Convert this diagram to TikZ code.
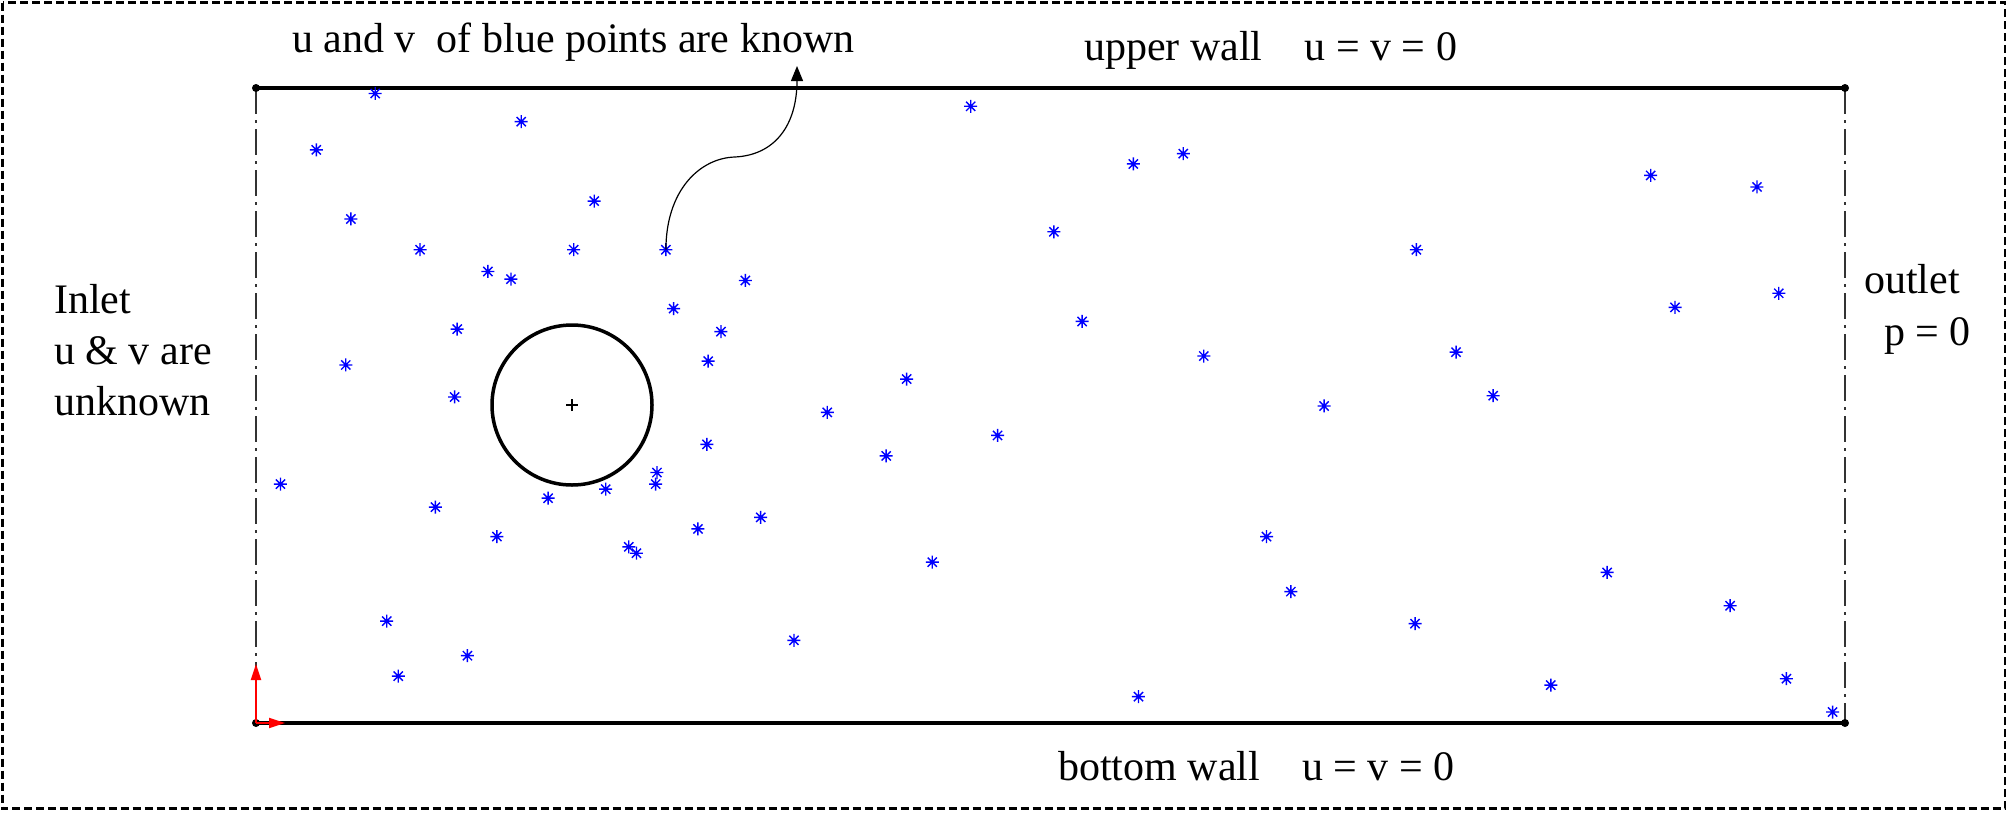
\documentclass[tikz,border=0pt]{standalone}
\usepackage{fontspec}
\setmainfont{Liberation Serif}
\usetikzlibrary{arrows.meta}
\tikzset{
  frameline/.style={line width=2.5pt, dash pattern=on 8pt off 4pt},
  wallline/.style={line width=4pt},
  sideline/.style={line width=2pt, black!80, dash pattern=on 26pt off 6pt on 3pt off 6pt},
  cornerdot/.style={fill=black},
  axisarrow/.style={red, line width=2pt, -{Triangle[length=16pt,width=10pt]}},
  cylline/.style={line width=3.5pt},
  starline/.style={blue, line width=1.4pt},
  callout/.style={line width=1.2pt, -{Triangle[length=15pt,width=12pt]}},
  lbl/.style={inner sep=0pt, anchor=base west, font=\fontsize{42}{51}\selectfont},
  astar/.pic={\draw[starline] (-6.5,0)--(6.5,0) (0,-6.5)--(0,6.5) (-4.6,-4.6)--(4.6,4.6) (-4.6,4.6)--(4.6,-4.6);}
}
\begin{document}
\begin{tikzpicture}[x=1pt,y=-1pt]
\useasboundingbox (0,0) rectangle (2008,812);
% outer dashed frame
\draw[frameline] (2.5,2.5) rectangle (2005,808.5);
% channel corners
\coordinate (tl) at (256,88);
\coordinate (tr) at (1845,88);
\coordinate (bl) at (256,723);
\coordinate (br) at (1845,723);
\draw[sideline] (tl) -- (bl);
\draw[sideline] (tr) -- (br);
\draw[wallline] (tl) -- (tr);
\draw[wallline] (bl) -- (br);
\foreach \c in {tl,tr,bl,br} \fill[cornerdot] (\c) circle (4);
% axes
\coordinate (ay) at (256,664);
\coordinate (ax) at (285,723);
\draw[axisarrow] (bl) -- (ay);
\draw[axisarrow] (bl) -- (ax);
% cylinder
\coordinate (cc) at (572,405);
\draw[cylline] (cc) circle (80);
\draw[line width=1.2pt] ([xshift=-6pt]cc) -- ([xshift=6pt]cc) ([yshift=-6pt]cc) -- ([yshift=6pt]cc);
% stars
\foreach \x/\y [count=\i] in {293/73, 407/95, 247/117, 758/83, 885/128, 924/120, 1289/137, 1372/146,
  274/171, 464/157, 328/195, 448/195, 520/195, 381/212, 399/218, 582/219, 823/181, 1106/195,
  526/241, 357/257, 563/259, 845/251, 1308/240, 1389/229, 270/285, 553/282, 940/278, 1137/275,
  355/310, 708/296, 1166/309, 646/322, 1034/317, 779/340, 552/347, 692/356, 219/378, 513/369,
  512/378, 473/382, 428/389, 340/396, 594/404, 545/413, 388/419, 491/427, 497/432, 728/439,
  989/419, 1008/462, 1255/447, 1351/473, 1105/487, 302/485, 620/500, 365/512, 311/528,
  1211/535, 1395/530, 889/544, 1431/556}
{
  \coordinate (s\i) at ({1.2806*\x},{1.2806*\y});
  \pic at (s\i) {astar};
}
% callout arrow
\coordinate (tip) at (797,66);
\draw[callout] (s13) .. controls (666,190) and (700,158) .. (735,157) .. controls (775,155) and (797,125) .. (tip);
% labels
\node[lbl] (known) at (292,52) {u and v\ \ of blue points are known};
\node[lbl] (upper) at (1084,60) {upper wall\hspace{42pt}u = v = 0};
\node[lbl] (bottom) at (1058,780) {bottom wall\hspace{42pt}u = v = 0};
\node[lbl] (inlet1) at (54,313) {Inlet};
\node[lbl] (inlet2) at (54,364) {u \& v are};
\node[lbl] (inlet3) at (54,415) {unknown};
\node[lbl] (outlet1) at (1864,293) {outlet};
\node[lbl] (outlet2) at (1884,345) {p = 0};
\end{tikzpicture}
\end{document}
